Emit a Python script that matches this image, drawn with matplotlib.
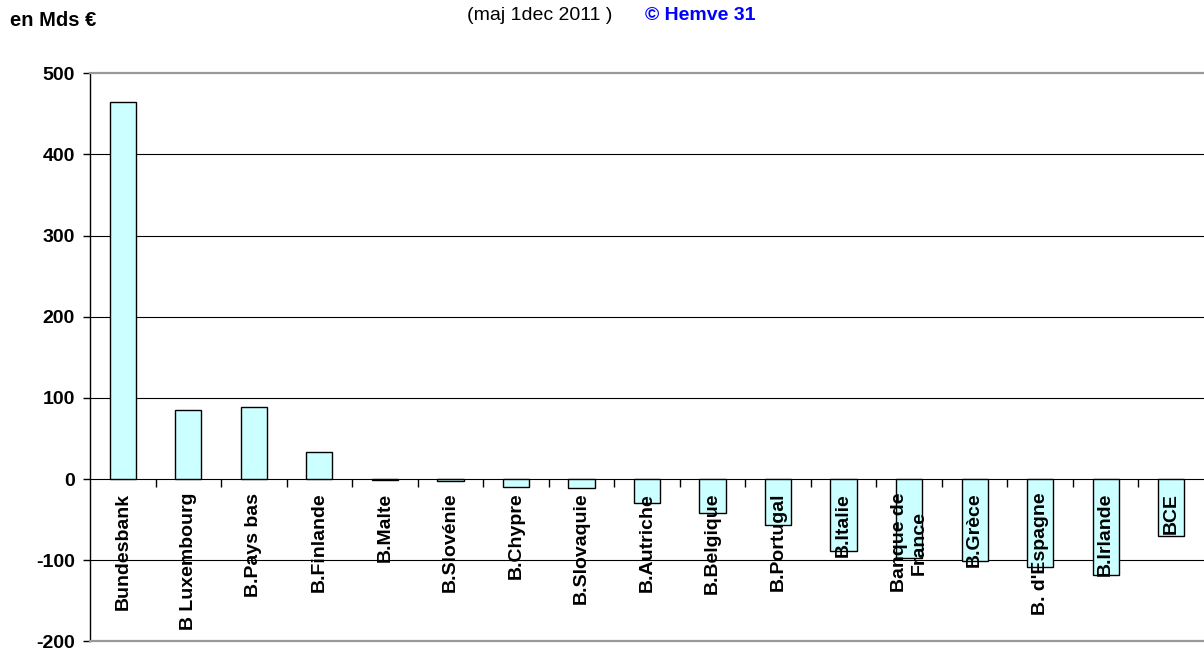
import matplotlib
matplotlib.use("Agg")
import matplotlib.pyplot as plt
import numpy as np

plt.rcParams['font.family'] = ['Liberation Sans', 'DejaVu Sans']

categories = ["Bundesbank", "B Luxembourg", "B.Pays bas", "B.Finlande", "B.Malte",
              "B.Slovénie", "B.Chypre", "B.Slovaquie", "B.Autriche", "B.Belgique",
              "B.Portugal", "B.Italie", "Banque de\nFrance", "B.Grèce",
              "B. d'Espagne", "B.Irlande", "BCE"]
values = [465, 85, 89, 33, -1, -2, -9.5, -11, -29, -42, -57, -89, -97.5, -100.5,
          -108, -118, -70]
yticks = [-200, -100, 0, 100, 200, 300, 400, 500]

fig = plt.figure(figsize=(12.04, 6.52), dpi=100)
ax = fig.add_axes([90/1204, (652-641.3)/652, 1 - 90/1204, (641.3-73.3)/652])

x = np.arange(len(categories))
ax.bar(x, values, width=0.40, color='#CCFFFF', edgecolor='black', linewidth=1.0, zorder=3)

ax.set_xlim(-0.5, len(categories) - 0.5)
ax.set_ylim(yticks[0], yticks[-1])
ax.set_yticks(yticks)
ax.set_yticklabels([str(v) for v in yticks], fontsize=14, fontweight='bold')
ax.tick_params(axis='y', direction='out', length=5, width=1, color='black', pad=6)
ax.set_xticks([])

for v in yticks[1:-1]:
    ax.axhline(v, color='black', linewidth=0.8, zorder=1)

ax.spines['right'].set_visible(False)
ax.spines['left'].set_color('black')
ax.spines['left'].set_linewidth(1.0)
for s in ('top', 'bottom'):
    ax.spines[s].set_color('#999999')
    ax.spines[s].set_linewidth(1.6)

# tick marks between categories hanging below zero line
ax.plot(x[:-1] + 0.5, np.zeros(len(x) - 1), linestyle='none', marker=3,
        markersize=6, markeredgewidth=1, color='black', zorder=4, clip_on=False)

for xi, lab in zip(x, categories):
    ax.text(xi, -17, lab, rotation=90, ha='center', va='top', fontsize=14,
            fontweight='bold', multialignment='center', zorder=5)

fig.text(10/1204, 1 - 21/652, "en Mds €", fontsize=14.5, fontweight='bold',
         ha='left', va='center')
fig.text(467/1204, 1 - 15/652, "(maj 1dec 2011 )", fontsize=14,
         ha='left', va='center')
fig.text(645/1204, 1 - 15/652, "© Hemve 31", fontsize=14, fontweight='bold',
         color='#0000FF', ha='left', va='center')

fig.savefig("out.png", dpi=100)
